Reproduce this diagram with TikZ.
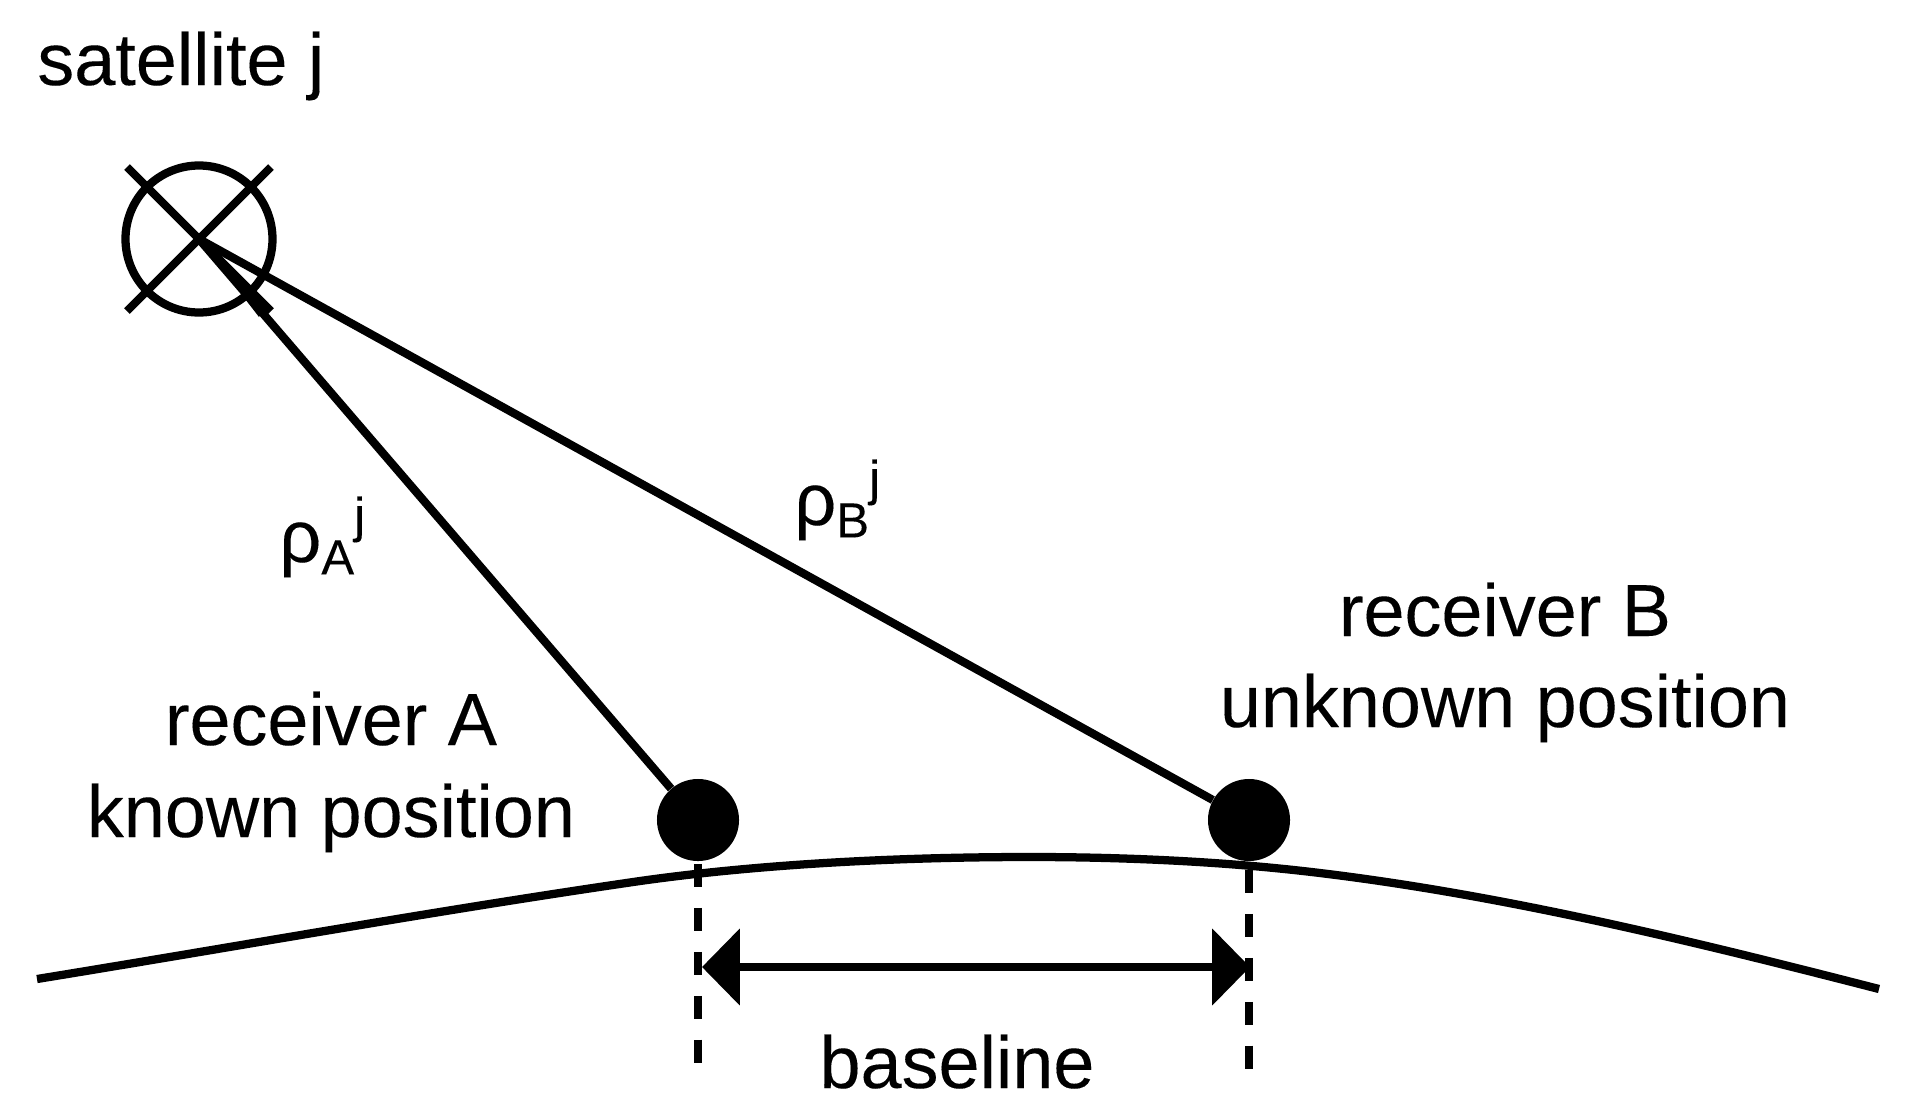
\documentclass[tikz,border=0pt]{standalone}
\usepackage{fontspec}
\setmainfont{Liberation Sans}[FakeBold=0.12]
\usetikzlibrary{arrows.meta}
\newcommand{\bigtxt}{\fontsize{42}{52}\selectfont}
\newcommand{\smalltxt}{\fontsize{28}{32}\selectfont}
\tikzset{
  x=0.02cm,y=-0.02cm,
  ink/.style={draw=black,line width=4.7pt},
  thinink/.style={draw=black,line width=4.6pt},
  dropline/.style={draw=black,line width=4.6pt,dash pattern=on 13pt off 12pt},
  ball/.style={circle,fill=black,draw=none,minimum size=46.7pt,inner sep=0pt},
  lbl/.style={inner sep=0pt,font=\bigtxt,align=center,anchor=base}
}
\begin{document}
\begin{tikzpicture}
\useasboundingbox (0,0) rectangle (1907,1113);
\fill[white] (0,0) rectangle (1907,1113);
\coordinate (sat) at (199,239);
\node[ball] (ballA) at (698,820) {};
\node[ball] (ballB) at (1249,820) {};
\coordinate (earthL) at (37,979);
\coordinate (earthK) at (640,881);
\coordinate (earthM) at (1030,857);
\coordinate (earthN) at (1320,873);
\coordinate (earthR) at (1879,989);
\coordinate (dropAtop) at (698,864);
\coordinate (dropAbot) at (698,1063);
\coordinate (dropBtop) at (1249,870);
\coordinate (dropBbot) at (1249,1071);
\coordinate (baseL) at (702,967);
\coordinate (baseR) at (1250,967);
% satellite
\draw[ink] (sat) circle (73.5);
\draw[thinink] (127,167) -- (271,311);
\draw[thinink] (271,167) -- (127,311);
% signal lines
\draw[ink] (sat) -- (ballA);
\draw[ink] (sat) -- (ballB);
\fill[black] (sat) -- (259,317) -- (268,303) -- cycle;
% earth
\draw[ink] (earthL) .. controls (240,946) and (440,910) .. (earthK)
           .. controls (760,864) and (900,857) .. (earthM)
           .. controls (1130,857) and (1230,862) .. (earthN)
           .. controls (1510,896) and (1700,943) .. (earthR);
% drops
\draw[dropline] (dropAtop) -- (dropAbot);
\draw[dropline] (dropBtop) -- (dropBbot);
% baseline
\draw[ink,{Triangle[length=21.5pt,width=42.7pt]}-{Triangle[length=21.5pt,width=42.7pt]}] (baseL) -- (baseR);
% labels
\node[lbl,anchor=base west] (satl) at (37,85) {satellite j};
\node[lbl] (recAa) at (331,745) {receiver A};
\node[lbl] (recAb) at (331,837) {known position};
\node[lbl] (recBa) at (1505,636) {receiver B};
\node[lbl] (recBb) at (1505,727) {unknown position};
\node[lbl] (basel) at (957,1088) {baseline};
\node[lbl,anchor=base west] (rhoA) at (279,562) {ρ\raisebox{-7pt}{\smalltxt A}\raisebox{17pt}{\smalltxt j}};
\node[lbl,anchor=base west] (rhoB) at (794,525) {ρ\raisebox{-7pt}{\smalltxt B}\raisebox{17pt}{\smalltxt j}};
\end{tikzpicture}
\end{document}
